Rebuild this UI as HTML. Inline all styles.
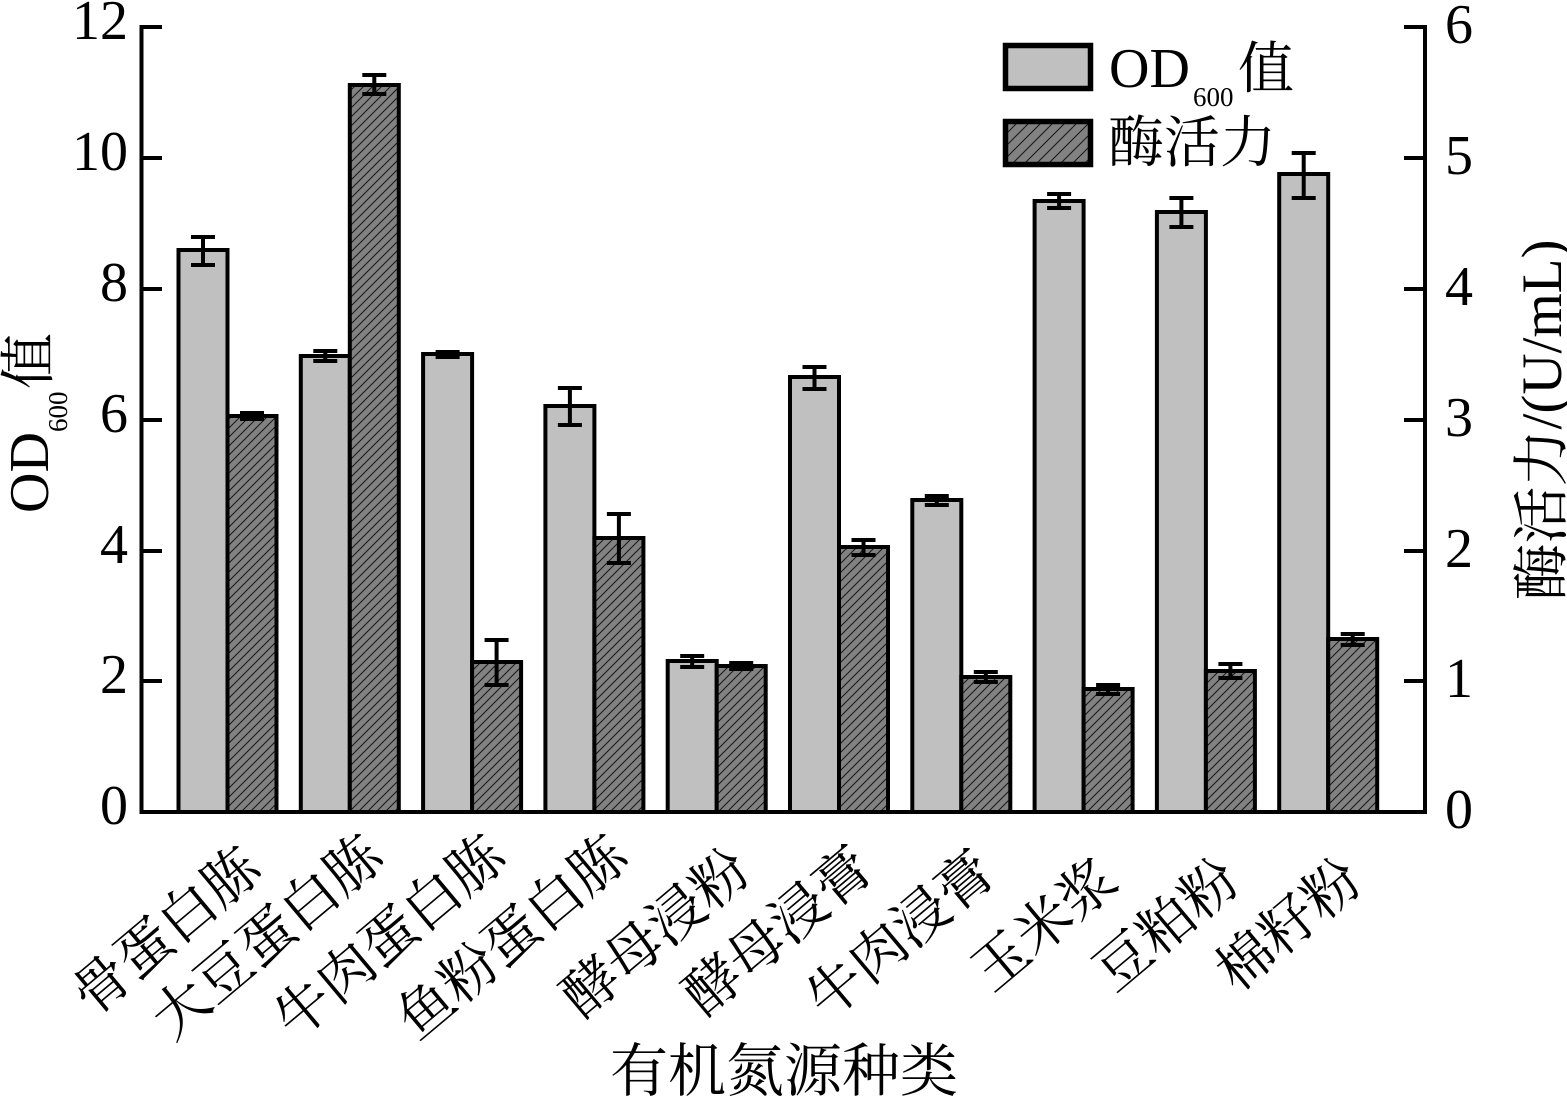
<!DOCTYPE html>
<html>
<head>
<meta charset="utf-8">
<style>
html,body{margin:0;padding:0;background:#fff;}
svg{display:block;}
text{font-family:"Liberation Serif","Noto Serif CJK SC",serif;fill:#000;}
.cjk{font-family:"Liberation Serif","Noto Serif CJK SC",serif;}
</style>
</head>
<body>
<svg width="1567" height="1098" viewBox="0 0 1567 1098" xmlns="http://www.w3.org/2000/svg">
<defs>
<pattern id="h" patternUnits="userSpaceOnUse" width="9" height="9">
<rect width="9" height="9" fill="#828282"/>
<path d="M-1,1 l2,-2 M0,9 l9,-9 M8,10 l2,-2" stroke="#1a1a1a" stroke-width="1.1"/>
</pattern>
<pattern id="h2" patternUnits="userSpaceOnUse" width="12" height="12">
<rect width="12" height="12" fill="#828282"/>
<path d="M-1,1 l2,-2 M0,12 l12,-12 M11,13 l2,-2" stroke="#1a1a1a" stroke-width="1.1"/>
</pattern>
</defs>

<!-- bars -->
<g stroke="#000" stroke-width="4">
<rect x="178.5" y="250" width="49" height="562" fill="#c0c0c0"/>
<rect x="227.5" y="416" width="49" height="396" fill="url(#h)"/>
<rect x="300.8" y="356" width="49" height="456" fill="#c0c0c0"/>
<rect x="349.8" y="85" width="49" height="727" fill="url(#h)"/>
<rect x="423.1" y="354" width="49" height="458" fill="#c0c0c0"/>
<rect x="472.1" y="662" width="49" height="150" fill="url(#h)"/>
<rect x="545.4" y="406" width="49" height="406" fill="#c0c0c0"/>
<rect x="594.4" y="538" width="49" height="274" fill="url(#h)"/>
<rect x="667.7" y="661" width="49" height="151" fill="#c0c0c0"/>
<rect x="716.7" y="666" width="49" height="146" fill="url(#h)"/>
<rect x="790" y="377" width="49" height="435" fill="#c0c0c0"/>
<rect x="839" y="547" width="49" height="265" fill="url(#h)"/>
<rect x="912.3" y="500" width="49" height="312" fill="#c0c0c0"/>
<rect x="961.3" y="677" width="49" height="135" fill="url(#h)"/>
<rect x="1034.6" y="201" width="49" height="611" fill="#c0c0c0"/>
<rect x="1083.6" y="689" width="49" height="123" fill="url(#h)"/>
<rect x="1156.9" y="212" width="49" height="600" fill="#c0c0c0"/>
<rect x="1205.9" y="671" width="49" height="141" fill="url(#h)"/>
<rect x="1279.2" y="174" width="49" height="638" fill="#c0c0c0"/>
<rect x="1328.2" y="639" width="49" height="173" fill="url(#h)"/>
</g>

<!-- error bars -->
<g stroke="#000" stroke-width="4" fill="none">
<path d="M203,237V265M191,237h24M191,265h24"/>
<path d="M252,413V419M240,413h24M240,419h24"/>
<path d="M325.3,351V361M313.3,351h24M313.3,361h24"/>
<path d="M374.3,75V94M362.3,75h24M362.3,94h24"/>
<path d="M447.6,352V357M435.6,352h24M435.6,357h24"/>
<path d="M496.6,640V685M484.6,640h24M484.6,685h24"/>
<path d="M569.9,388V425M557.9,388h24M557.9,425h24"/>
<path d="M618.9,514V563M606.9,514h24M606.9,563h24"/>
<path d="M692.2,656V667M680.2,656h24M680.2,667h24"/>
<path d="M741.2,663V669M729.2,663h24M729.2,669h24"/>
<path d="M814.5,367V389M802.5,367h24M802.5,389h24"/>
<path d="M863.5,540V555M851.5,540h24M851.5,555h24"/>
<path d="M936.8,496V505M924.8,496h24M924.8,505h24"/>
<path d="M985.8,672V682M973.8,672h24M973.8,682h24"/>
<path d="M1059.1,194V208M1047.1,194h24M1047.1,208h24"/>
<path d="M1108.1,685V694M1096.1,685h24M1096.1,694h24"/>
<path d="M1181.4,198V227M1169.4,198h24M1169.4,227h24"/>
<path d="M1230.4,664V678M1218.4,664h24M1218.4,678h24"/>
<path d="M1303.7,153V198M1291.7,153h24M1291.7,198h24"/>
<path d="M1352.7,634V645M1340.7,634h24M1340.7,645h24"/>
</g>

<!-- axes -->
<g stroke="#000" stroke-width="4" fill="none">
<path d="M141.5,25V814M139.5,812H1427M1425,25V814"/>
<path d="M141.5,27H162M141.5,158H162M141.5,289H162M141.5,420H162M141.5,551H162M141.5,681H162"/>
<path d="M1404,27H1425M1404,158H1425M1404,289H1425M1404,420H1425M1404,551H1425M1404,681H1425"/>
</g>

<!-- left tick labels -->
<g font-size="56" text-anchor="end">
<text x="128" y="39">12</text>
<text x="128" y="170">10</text>
<text x="128" y="301">8</text>
<text x="128" y="432">6</text>
<text x="128" y="563">4</text>
<text x="128" y="693">2</text>
<text x="128" y="824">0</text>
</g>
<!-- right tick labels -->
<g font-size="56" text-anchor="start">
<text x="1445" y="43">6</text>
<text x="1445" y="174">5</text>
<text x="1445" y="305">4</text>
<text x="1445" y="436">3</text>
<text x="1445" y="567">2</text>
<text x="1445" y="697">1</text>
<text x="1445" y="828">0</text>
</g>

<!-- legend -->
<rect x="1005.5" y="45.5" width="85" height="43" fill="#c0c0c0" stroke="#000" stroke-width="5.5"/>
<rect x="1005.5" y="121.5" width="85" height="43" fill="url(#h2)" stroke="#000" stroke-width="5.5"/>
<text x="1109" y="87" font-size="56">OD</text>
<text x="1193" y="106" font-size="27">600</text>
<text class="cjk" x="1238" y="88" font-size="56">值</text>
<text class="cjk" x="1108" y="162" font-size="56">酶活力</text>

<!-- x tick labels, rotated -->
<g class="cjk" font-size="56" text-anchor="end">
<text class="cjk" transform="translate(264.5,873.5) rotate(-40)">骨蛋白胨</text>
<text class="cjk" transform="translate(386.8,861.5) rotate(-40)">大豆蛋白胨</text>
<text class="cjk" transform="translate(509.1,861.5) rotate(-40)">牛肉蛋白胨</text>
<text class="cjk" transform="translate(631.4,861.5) rotate(-40)">鱼粉蛋白胨</text>
<text class="cjk" transform="translate(753.7,875.5) rotate(-40)">酵母浸粉</text>
<text class="cjk" transform="translate(876,873.5) rotate(-40)">酵母浸膏</text>
<text class="cjk" transform="translate(998.3,877.5) rotate(-40)">牛肉浸膏</text>
<text class="cjk" transform="translate(1120.6,885.5) rotate(-40)">玉米浆</text>
<text class="cjk" transform="translate(1242.9,885.5) rotate(-40)">豆粕粉</text>
<text class="cjk" transform="translate(1365.2,885.5) rotate(-40)">棉籽粉</text>
</g>

<!-- x axis title -->
<text class="cjk" x="784" y="1091" font-size="58" text-anchor="middle">有机氮源种类</text>

<!-- left y title -->
<g transform="translate(48,513) rotate(-90)">
<text x="0" y="0" font-size="56">OD</text>
<text x="81" y="19" font-size="27">600</text>
<text class="cjk" x="124" y="0" font-size="56">值</text>
</g>

<!-- right y title -->
<text class="cjk" transform="translate(1561,420) rotate(-90)" font-size="57" text-anchor="middle">酶活力/(U/mL)</text>
</svg>
</body>
</html>
